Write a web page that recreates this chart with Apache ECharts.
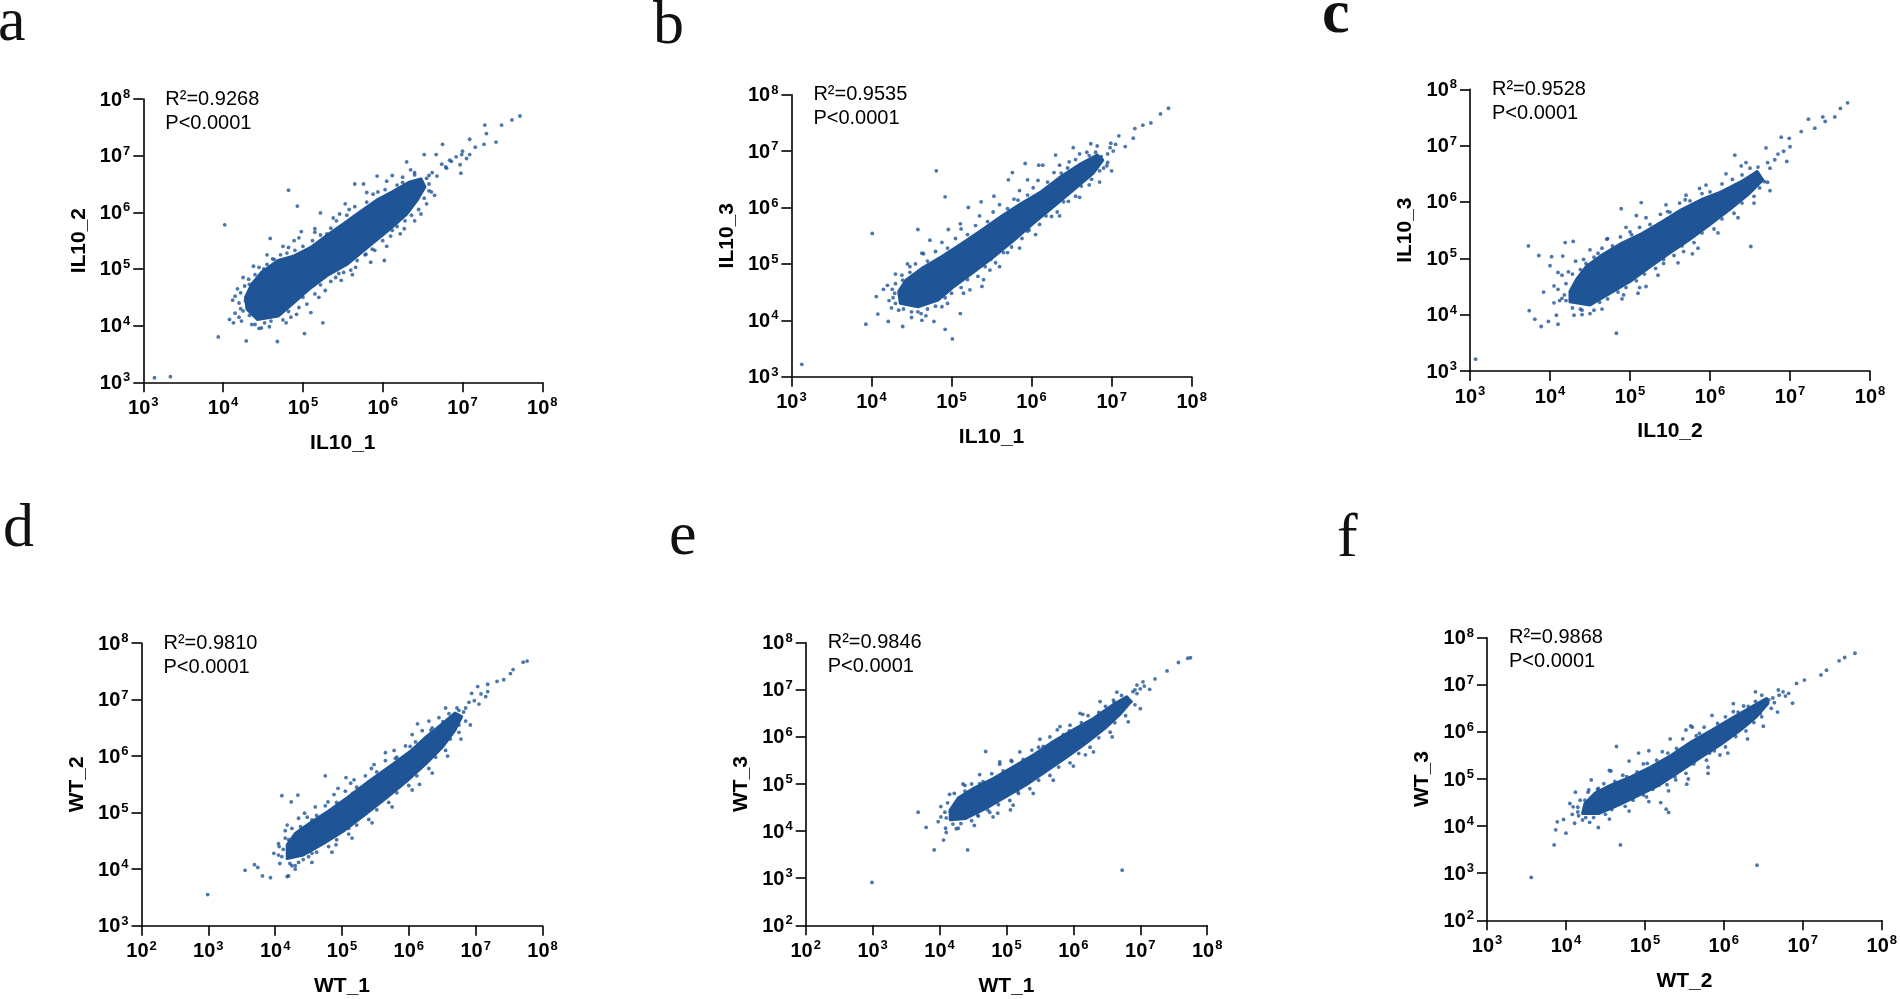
<!DOCTYPE html>
<html>
<head>
<meta charset="utf-8">
<title>Correlation scatter</title>
<script src="https://cdn.jsdelivr.net/npm/echarts@6/dist/echarts.min.js"></script>
<style>
  html, body { margin: 0; padding: 0; background: #fff; }
  #main { width: 1900px; height: 999px; }
</style>
</head>
<body>
<div id="main"></div>
<script>
// all values are log10(expression)
// xCore = outline of the solid centre of a cloud, xDots = single dots,
// xEdge / xFar = dots along the rim of the centre and a little further out

var aCore = [[4.30,4.29],[4.43,4.11],[4.69,4.17],[4.89,4.41],[5.10,4.67],[5.30,4.88],[5.56,5.09],[5.81,5.38],[6.07,5.68],[6.30,5.97],[6.43,6.21],[6.53,6.45],[6.48,6.59],[6.33,6.53],[6.12,6.36],[5.92,6.21],[5.71,6.00],[5.51,5.80],[5.30,5.59],[5.10,5.38],[4.89,5.23],[4.69,5.15],[4.48,4.94],[4.36,4.73],[4.28,4.50]];
var aDots = [[3.14,3.08],[3.34,3.10],[3.94,3.80],[4.02,5.78],[4.82,6.39],[4.93,6.11],[4.29,3.73],[4.68,3.72],[5.02,3.86],[5.25,4.05],[4.08,4.11],[4.15,4.52],[4.59,5.54],[4.98,5.66],[5.22,5.99],[5.53,6.15],[5.65,6.50],[5.76,6.50],[5.93,6.64],[6.02,5.15],[6.30,6.89],[6.52,7.02],[6.75,7.20],[6.67,7.02],[7.09,7.29],[7.28,7.54],[7.30,7.39],[7.49,7.54],[7.62,7.63],[7.72,7.70],[7.42,7.24],[7.27,7.20],[7.16,7.15],[7.09,7.02],[6.97,6.84],[6.99,7.02],[6.84,6.92],[6.98,6.69],[6.79,6.80],[6.58,6.65],[6.61,6.36],[6.48,5.97],[6.27,5.71],[6.12,5.68],[5.94,6.36],[6.12,6.65],[6.25,6.53],[5.46,5.97],[5.15,5.71],[4.89,5.50],[4.82,5.38],[4.64,5.17],[4.51,5.00],[4.33,4.73],[4.28,4.44],[4.25,4.26],[4.36,4.02],[4.48,3.96],[4.79,4.05],[4.92,4.20],[5.10,4.23],[5.20,4.50],[5.41,4.85],[5.51,4.94],[5.66,5.03],[5.79,5.26],[5.87,5.35],[5.99,5.62],[5.66,5.44],[5.30,5.62],[4.23,4.08],[4.13,4.05],[4.41,4.52],[6.55,6.60],[6.62,6.70],[6.68,6.64],[6.74,6.85],[6.80,6.78],[6.86,6.90],[6.92,6.98],[7.00,7.08],[7.05,6.95],[6.45,6.55],[6.58,6.50],[6.40,6.70]];
var aEdge = [[4.33,4.18],[4.40,4.02],[4.52,4.05],[4.60,4.08],[4.75,4.10],[4.82,4.25],[4.95,4.32],[5.00,4.50],[5.15,4.56],[5.22,4.72],[5.35,4.78],[5.45,4.92],[5.60,4.98],[5.68,5.15],[5.78,5.25],[5.90,5.33],[6.00,5.50],[6.10,5.58],[6.18,5.75],[6.28,5.85],[6.36,5.95],[6.45,6.05],[6.52,6.25],[6.58,6.38],[6.40,6.66],[6.25,6.62],[6.18,6.48],[6.03,6.40],[5.88,6.32],[5.80,6.18],[5.65,6.10],[5.55,5.95],[5.42,5.85],[5.35,5.72],[5.22,5.60],[5.12,5.50],[5.00,5.40],[4.90,5.33],[4.80,5.28],[4.72,5.25],[4.62,5.18],[4.55,5.08],[4.45,5.03],[4.40,4.90],[4.32,4.82],[4.27,4.70],[4.22,4.58],[4.20,4.40],[4.22,4.30]];
var aFar = [[4.45,3.95],[4.58,3.98],[4.85,4.15],[5.05,4.38],[5.28,4.62],[5.48,4.80],[5.62,4.90],[5.85,5.12],[6.05,5.40],[6.22,5.62],[6.40,5.85],[6.55,6.15],[6.65,6.30],[6.35,6.75],[6.05,6.55],[5.80,6.35],[5.58,6.05],[5.38,5.90],[5.15,5.65],[4.95,5.55],[4.75,5.40],[4.55,5.25],[4.38,5.05],[4.25,4.85],[4.18,4.65],[4.12,4.45],[4.15,4.22],[4.20,4.15]];

var bCore = [[4.36,4.30],[4.58,4.24],[4.83,4.36],[5.03,4.60],[5.28,4.86],[5.53,5.13],[5.78,5.42],[6.02,5.72],[6.27,6.01],[6.52,6.31],[6.77,6.61],[6.89,6.84],[6.82,6.93],[6.62,6.78],[6.37,6.55],[6.12,6.28],[5.87,6.07],[5.62,5.84],[5.38,5.60],[5.13,5.36],[4.88,5.13],[4.63,4.92],[4.43,4.71],[4.34,4.51]];
var bDots = [[3.13,3.22],[3.93,3.93],[4.01,5.54],[4.81,6.65],[4.92,6.19],[4.58,5.61],[5.01,3.67],[4.92,3.84],[5.11,4.12],[4.39,3.89],[4.21,3.98],[4.08,4.11],[4.06,4.42],[4.15,4.55],[4.63,4.00],[4.78,3.98],[4.73,5.42],[4.96,5.61],[5.11,5.71],[5.21,6.00],[5.37,6.10],[5.53,6.20],[5.76,6.62],[5.71,6.49],[5.92,6.78],[6.09,6.75],[6.14,6.75],[5.95,6.49],[6.30,6.93],[6.52,7.06],[6.47,6.81],[6.69,6.98],[6.74,7.13],[6.82,7.09],[6.99,7.14],[7.09,7.27],[7.17,7.08],[7.27,7.23],[7.29,7.40],[7.39,7.46],[7.49,7.50],[7.61,7.66],[7.71,7.76],[6.94,6.74],[6.87,6.90],[6.72,6.40],[6.46,6.11],[6.25,5.84],[5.97,5.60],[5.70,5.20],[5.48,4.89],[5.38,4.60],[5.23,4.54],[5.49,5.08],[6.37,6.61],[6.57,6.72],[5.83,6.13],[4.63,5.19],[4.48,4.95],[4.39,4.71],[4.29,4.48],[4.34,4.18],[4.58,4.15],[4.88,4.24],[6.95,6.95],[7.02,7.00],[6.98,7.06],[7.05,7.12],[6.90,6.70],[6.80,6.98]];
var bEdge = [[4.40,4.20],[4.50,4.15],[4.62,4.12],[4.70,4.20],[4.80,4.25],[4.92,4.40],[5.00,4.48],[5.12,4.58],[5.20,4.72],[5.33,4.78],[5.42,4.95],[5.55,5.02],[5.65,5.20],[5.75,5.30],[5.88,5.45],[5.95,5.58],[6.10,5.70],[6.18,5.85],[6.32,5.92],[6.40,6.10],[6.55,6.20],[6.62,6.38],[6.75,6.50],[6.85,6.65],[6.95,6.80],[6.72,6.92],[6.55,6.85],[6.45,6.70],[6.28,6.62],[6.20,6.45],[6.02,6.35],[5.95,6.22],[5.78,6.15],[5.70,5.98],[5.52,5.92],[5.45,5.75],[5.30,5.68],[5.20,5.52],[5.05,5.45],[4.95,5.28],[4.80,5.22],[4.70,5.05],[4.55,5.00],[4.48,4.85],[4.38,4.80],[4.30,4.65],[4.26,4.55],[4.27,4.40],[4.30,4.30]];
var bFar = [[4.50,4.05],[4.68,4.08],[4.95,4.30],[5.15,4.48],[5.40,4.72],[5.60,4.95],[5.85,5.28],[6.05,5.52],[6.35,5.85],[6.60,6.18],[6.85,6.45],[7.00,6.65],[6.60,6.95],[6.35,6.75],[6.08,6.48],[5.85,6.30],[5.60,6.05],[5.35,5.85],[5.12,5.62],[4.88,5.38],[4.65,5.18],[4.45,5.00],[4.30,4.82],[4.20,4.62],[4.22,4.35],[4.25,4.22]];

var cCore = [[4.25,4.23],[4.50,4.17],[4.75,4.38],[5.00,4.59],[5.25,4.85],[5.49,5.09],[5.74,5.33],[5.99,5.59],[6.24,5.86],[6.49,6.15],[6.66,6.39],[6.59,6.54],[6.39,6.36],[6.14,6.18],[5.89,6.04],[5.64,5.86],[5.40,5.65],[5.15,5.44],[4.90,5.27],[4.65,5.06],[4.45,4.85],[4.33,4.62],[4.25,4.41]];
var cDots = [[3.07,3.21],[3.73,5.22],[3.86,5.05],[4.02,5.03],[4.00,4.87],[3.92,4.40],[3.74,4.07],[3.81,3.92],[3.89,3.79],[3.98,3.88],[4.08,3.99],[4.10,3.83],[4.05,4.21],[4.15,4.29],[4.05,4.51],[4.19,5.28],[4.29,5.30],[4.16,5.04],[4.23,4.76],[4.10,4.75],[4.83,3.67],[4.89,5.88],[5.14,5.99],[4.71,5.34],[5.08,5.76],[6.31,6.83],[6.51,5.21],[6.70,6.96],[6.89,7.15],[6.99,7.13],[7.00,6.98],[7.14,7.25],[7.23,7.47],[7.41,7.51],[7.56,7.51],[7.63,7.66],[7.72,7.76],[7.31,7.31],[7.44,7.43],[6.96,6.72],[6.81,6.75],[6.68,6.36],[6.39,6.64],[6.22,6.21],[5.98,5.59],[5.79,5.44],[5.78,5.08],[5.67,5.12],[5.42,4.91],[5.42,5.24],[5.20,4.50],[5.10,4.38],[4.92,4.35],[4.50,4.02],[4.30,3.99],[4.40,4.08],[5.47,5.83],[5.69,6.04],[5.87,6.24],[5.59,5.68],[5.00,5.47],[4.60,5.09],[4.45,4.91],[6.75,6.60],[6.85,6.85],[6.72,6.70],[6.92,6.90],[6.60,6.62]];
var cEdge = [[4.28,4.12],[4.38,4.10],[4.55,4.08],[4.62,4.22],[4.72,4.28],[4.85,4.40],[4.95,4.48],[5.08,4.60],[5.18,4.72],[5.32,4.82],[5.42,4.98],[5.55,5.05],[5.65,5.22],[5.80,5.28],[5.90,5.45],[6.05,5.52],[6.15,5.70],[6.30,5.80],[6.40,5.98],[6.55,6.10],[6.62,6.25],[6.72,6.35],[6.50,6.60],[6.40,6.48],[6.28,6.40],[6.15,6.32],[6.00,6.18],[5.90,6.15],[5.75,6.02],[5.62,5.98],[5.50,5.82],[5.38,5.78],[5.25,5.60],[5.12,5.55],[5.02,5.42],[4.88,5.38],[4.78,5.22],[4.65,5.18],[4.55,5.02],[4.42,4.98],[4.38,4.80],[4.28,4.72],[4.20,4.55],[4.18,4.35],[4.20,4.25]];
var cFar = [[4.40,4.00],[4.65,4.10],[4.90,4.28],[5.12,4.48],[5.35,4.70],[5.60,4.92],[5.85,5.18],[6.10,5.45],[6.35,5.72],[6.55,5.98],[6.75,6.20],[6.45,6.70],[6.20,6.50],[5.95,6.30],[5.70,6.12],[5.45,5.95],[5.20,5.72],[4.95,5.55],[4.72,5.35],[4.50,5.15],[4.32,4.95],[4.15,4.70],[4.10,4.45],[4.12,4.25]];

var dCore = [[4.18,4.19],[4.42,4.25],[4.73,4.46],[5.04,4.69],[5.34,4.96],[5.65,5.25],[5.96,5.55],[6.26,5.87],[6.51,6.17],[6.69,6.46],[6.79,6.70],[6.69,6.76],[6.51,6.58],[6.26,6.34],[6.02,6.08],[5.71,5.81],[5.40,5.55],[5.10,5.28],[4.79,5.02],[4.55,4.84],[4.30,4.63],[4.18,4.43]];
var dDots = [[2.99,3.55],[3.55,3.98],[3.69,4.08],[3.74,4.03],[3.81,3.88],[3.93,3.85],[4.20,3.88],[4.25,4.06],[4.30,4.06],[3.98,4.28],[4.06,4.40],[4.18,4.78],[4.10,5.30],[4.34,5.31],[4.24,5.19],[4.44,4.99],[4.75,5.65],[5.06,5.62],[4.94,5.43],[5.13,5.52],[5.44,5.78],[5.65,6.06],[5.80,5.96],[6.13,6.57],[6.16,5.50],[6.51,6.61],[6.57,6.46],[6.66,6.71],[6.94,7.11],[7.03,7.23],[7.18,7.27],[7.18,7.14],[7.32,7.32],[7.42,7.35],[7.52,7.46],[7.56,7.53],[7.71,7.66],[7.77,7.68],[7.15,7.05],[7.05,6.92],[6.75,6.55],[6.48,6.40],[6.36,6.14],[6.02,5.81],[5.77,5.52],[5.47,5.28],[5.28,5.05],[5.10,4.72],[5.16,4.87],[4.91,4.43],[4.55,4.28],[4.42,4.17],[4.18,3.87],[4.07,4.10],[4.20,4.52],[4.55,4.87],[4.79,5.19],[5.16,5.34],[5.65,5.69],[6.02,6.17],[6.33,6.46],[6.75,6.81],[6.85,6.85],[6.90,6.95],[6.98,6.98],[7.08,7.10],[6.82,6.78]];
var dEdge = [[4.22,4.10],[4.35,4.12],[4.50,4.22],[4.62,4.30],[4.80,4.40],[4.92,4.52],[5.10,4.62],[5.22,4.78],[5.40,4.88],[5.52,5.05],[5.70,5.18],[5.82,5.35],[6.00,5.48],[6.12,5.65],[6.30,5.78],[6.40,5.98],[6.55,6.10],[6.62,6.30],[6.75,6.42],[6.85,6.62],[6.72,6.85],[6.60,6.75],[6.45,6.68],[6.35,6.50],[6.20,6.45],[6.10,6.25],[5.95,6.18],[5.82,5.98],[5.65,5.92],[5.52,5.72],[5.35,5.65],[5.22,5.45],[5.05,5.38],[4.92,5.18],[4.75,5.12],[4.62,4.95],[4.48,4.92],[4.38,4.75],[4.25,4.72],[4.15,4.55],[4.12,4.35],[4.10,4.22]];
var dFar = [[4.30,4.00],[4.55,4.12],[4.85,4.30],[5.15,4.55],[5.45,4.82],[5.75,5.10],[6.05,5.40],[6.35,5.70],[6.58,6.00],[6.78,6.30],[6.92,6.55],[6.55,6.85],[6.30,6.62],[6.05,6.38],[5.78,6.10],[5.48,5.85],[5.18,5.58],[4.88,5.32],[4.60,5.10],[4.35,4.90],[4.15,4.68],[4.05,4.45],[4.05,4.25]];

var eCore = [[4.16,4.24],[4.39,4.27],[4.69,4.48],[4.99,4.73],[5.29,4.98],[5.58,5.26],[5.88,5.55],[6.18,5.86],[6.47,6.18],[6.71,6.50],[6.86,6.75],[6.80,6.85],[6.59,6.68],[6.30,6.39],[6.00,6.15],[5.70,5.90],[5.41,5.62],[5.11,5.37],[4.81,5.12],[4.51,4.91],[4.28,4.70],[4.16,4.45]];
var eDots = [[2.99,2.91],[6.73,3.17],[3.68,4.40],[3.80,4.08],[3.92,3.60],[4.06,3.81],[4.42,3.60],[3.98,4.20],[4.09,4.06],[4.10,3.97],[4.28,4.06],[4.69,5.69],[4.90,5.47],[5.07,5.50],[5.06,4.45],[4.38,4.97],[4.60,5.01],[4.39,4.80],[4.28,4.55],[4.16,4.41],[5.48,5.78],[5.76,6.15],[5.94,6.13],[6.14,6.48],[6.61,6.73],[6.95,7.10],[7.04,7.17],[7.22,7.23],[7.40,7.40],[7.57,7.58],[7.71,7.67],[7.75,7.68],[7.14,7.01],[6.86,6.75],[6.71,6.57],[6.36,6.18],[6.09,5.86],[5.94,5.65],[5.70,5.44],[5.49,5.26],[5.46,5.16],[5.17,4.84],[5.23,5.01],[4.87,4.38],[4.72,4.45],[4.57,4.34],[6.18,5.62],[5.97,5.83],[6.41,6.50],[5.46,5.65],[5.23,5.44],[6.89,6.96],[6.95,6.92],[7.00,7.02],[7.06,7.08],[6.92,7.00]];
var eEdge = [[4.20,4.15],[4.32,4.16],[4.48,4.22],[4.58,4.32],[4.75,4.40],[4.88,4.56],[5.05,4.65],[5.18,4.80],[5.35,4.90],[5.48,5.08],[5.65,5.18],[5.78,5.36],[5.95,5.45],[6.08,5.65],[6.25,5.78],[6.38,5.98],[6.55,6.10],[6.62,6.30],[6.78,6.45],[6.92,6.68],[6.72,6.88],[6.60,6.78],[6.48,6.65],[6.38,6.52],[6.22,6.45],[6.12,6.30],[5.95,6.25],[5.85,6.05],[5.65,6.00],[5.55,5.80],[5.38,5.72],[5.25,5.52],[5.08,5.48],[4.95,5.28],[4.78,5.22],[4.65,5.05],[4.48,5.00],[4.38,4.85],[4.22,4.80],[4.12,4.60],[4.08,4.40],[4.10,4.28]];
var eFar = [[4.25,4.05],[4.52,4.12],[4.80,4.30],[5.10,4.55],[5.40,4.80],[5.70,5.08],[6.00,5.38],[6.30,5.68],[6.58,6.00],[6.82,6.32],[7.00,6.60],[6.65,6.95],[6.40,6.75],[6.10,6.50],[5.80,6.22],[5.50,5.95],[5.20,5.68],[4.90,5.42],[4.60,5.20],[4.35,5.00],[4.15,4.78],[4.02,4.52],[4.02,4.30]];

var fCore = [[4.21,4.27],[4.42,4.27],[4.67,4.45],[4.93,4.66],[5.18,4.87],[5.44,5.16],[5.69,5.44],[5.95,5.72],[6.21,6.04],[6.41,6.32],[6.56,6.61],[6.54,6.71],[6.36,6.54],[6.10,6.29],[5.85,6.04],[5.59,5.79],[5.34,5.51],[5.08,5.26],[4.83,5.05],[4.57,4.87],[4.37,4.70],[4.24,4.48]];
var fDots = [[3.56,2.91],[6.42,3.17],[3.85,3.60],[4.69,3.60],[3.87,3.92],[3.89,4.09],[3.97,4.14],[4.00,3.85],[4.09,4.41],[4.11,4.06],[4.16,4.22],[4.24,4.55],[4.41,4.80],[4.41,3.97],[4.64,5.69],[4.92,5.55],[4.57,5.17],[5.30,4.29],[5.27,4.36],[5.20,4.50],[5.53,4.89],[5.39,4.98],[5.80,5.12],[5.95,5.51],[5.82,5.55],[5.58,6.13],[5.52,6.04],[6.12,6.43],[6.69,6.89],[6.87,6.61],[6.92,7.03],[7.02,7.10],[7.23,7.21],[7.30,7.31],[7.46,7.51],[7.53,7.58],[7.66,7.67],[6.82,6.82],[6.57,6.68],[6.46,6.39],[6.26,6.18],[6.05,5.93],[5.90,5.76],[5.59,5.33],[5.18,4.87],[4.98,4.66],[4.72,4.52],[4.57,4.38],[4.42,4.34],[4.21,4.13],[4.29,4.77],[4.77,5.05],[5.03,5.33],[5.29,5.55],[5.69,5.97],[6.31,6.54],[6.62,6.72],[6.70,6.78],[6.75,6.85],[6.78,6.76],[6.64,6.62]];
var fEdge = [[4.25,4.18],[4.35,4.18],[4.50,4.25],[4.58,4.35],[4.75,4.42],[4.85,4.55],[5.02,4.62],[5.10,4.78],[5.28,4.88],[5.38,5.05],[5.52,5.12],[5.62,5.32],[5.78,5.40],[5.88,5.60],[6.02,5.68],[6.15,5.90],[6.28,6.02],[6.38,6.20],[6.48,6.32],[6.60,6.50],[6.48,6.78],[6.40,6.65],[6.25,6.55],[6.18,6.42],[6.02,6.32],[5.92,6.18],[5.75,6.10],[5.65,5.92],[5.48,5.85],[5.40,5.65],[5.22,5.58],[5.15,5.40],[4.98,5.32],[4.90,5.15],[4.72,5.08],[4.62,4.95],[4.48,4.90],[4.40,4.78],[4.28,4.72],[4.18,4.55],[4.15,4.40],[4.15,4.30]];
var fFar = [[4.30,4.08],[4.55,4.15],[4.80,4.32],[5.05,4.52],[5.30,4.75],[5.55,5.00],[5.80,5.25],[6.05,5.55],[6.30,5.85],[6.50,6.12],[6.68,6.42],[6.40,6.85],[6.12,6.60],[5.85,6.35],[5.60,6.10],[5.32,5.85],[5.05,5.60],[4.80,5.38],[4.55,5.18],[4.32,4.98],[4.12,4.72],[4.05,4.48],[4.08,4.25]];

var xNames = ['IL10_1', 'IL10_1', 'IL10_2', 'WT_1', 'WT_1', 'WT_2'];
var yNames = ['IL10_2', 'IL10_3', 'IL10_3', 'WT_2', 'WT_3', 'WT_3'];
var r2Values = ['0.9268', '0.9535', '0.9528', '0.9810', '0.9846', '0.9868'];
var pValue = 'P<0.0001';
var letters = ['a', 'b', 'c', 'd', 'e', 'f'];
// axis extents, decades (10^min .. 10^max)
var xRanges = [[3, 8], [3, 8], [3, 8], [2, 8], [2, 8], [3, 8]];
var yRanges = [[3, 8], [3, 8], [3, 8], [3, 8], [2, 8], [2, 8]];

var cores = [aCore, bCore, cCore, dCore, eCore, fCore];
var dots = [
  aDots.concat(aEdge, aFar),
  bDots.concat(bEdge, bFar),
  cDots.concat(cEdge, cFar),
  dDots.concat(dEdge, dFar),
  eDots.concat(eEdge, eFar),
  fDots.concat(fEdge, fFar)
];

// layout: [left, top, width, height] of each plot, and letter positions
var rects = [
  [143.3, 99, 399, 283.3],
  [791.4, 94.7, 400.3, 282],
  [1470, 89.3, 400, 281.7],
  [141.5, 643, 401, 282.7],
  [805.7, 642.7, 401.5, 282.6],
  [1487, 637.7, 401, 282.6]
];
var letterPos = [[-2, -7], [653, -4], [1322, -15], [3, 499], [669, 507], [1337, 509]];

var BLUE = '#1f5596';
var SANS = '"Liberation Sans", Arial, Helvetica, sans-serif';
var NARROW = '"Liberation Sans Narrow", "Arial Narrow", "Liberation Sans", Arial, sans-serif';
var SERIF = '"Liberation Serif", "Times New Roman", serif';

function pow10(p) {
  return [Math.pow(10, p[0]), Math.pow(10, p[1])];
}

function tickLabel(v) {
  return '{b|10}{s|' + Math.round(Math.log10(v)) + '}';
}

var tickRich = {
  b: { fontSize: 20, fontWeight: 'bold', fontFamily: NARROW, color: '#000', lineHeight: 22, verticalAlign: 'bottom' },
  s: { fontSize: 13, fontWeight: 'bold', fontFamily: NARROW, color: '#000', lineHeight: 14, verticalAlign: 'top', padding: [0, 0, 0, 1] }
};

function axisCommon() {
  return {
    type: 'log',
    logBase: 10,
    axisLine: { show: true, onZero: false, lineStyle: { color: '#000', width: 1.6 } },
    axisTick: { show: true, inside: false, length: 10, lineStyle: { color: '#000', width: 1.6 } },
    splitLine: { show: false },
    minorTick: { show: false },
    nameLocation: 'middle',
    nameTextStyle: { fontSize: 21, fontWeight: 'bold', fontFamily: SANS, color: '#000' }
  };
}

var grids = [], xAxes = [], yAxes = [], series = [], graphics = [];

for (var i = 0; i < 6; i++) {
  var r = rects[i];
  grids.push({ left: r[0], top: r[1], width: r[2], height: r[3], containLabel: false });

  var xa = axisCommon();
  xa.gridIndex = i;
  xa.min = Math.pow(10, xRanges[i][0]);
  xa.max = Math.pow(10, xRanges[i][1]);
  xa.name = xNames[i];
  xa.nameGap = 50;
  xa.axisLabel = { formatter: tickLabel, rich: tickRich, margin: 14 };
  xAxes.push(xa);

  var ya = axisCommon();
  ya.gridIndex = i;
  ya.min = Math.pow(10, yRanges[i][0]);
  ya.max = Math.pow(10, yRanges[i][1]);
  ya.name = yNames[i];
  ya.nameGap = 54;
  ya.axisLabel = { formatter: tickLabel, rich: tickRich, margin: 13 };
  yAxes.push(ya);

  (function (coreVals) {
    series.push({
      type: 'custom',
      xAxisIndex: i,
      yAxisIndex: i,
      silent: true,
      data: coreVals,
      renderItem: function (params, api) {
        if (params.dataIndex !== 0) return null;
        var pts = coreVals.map(function (v) { return api.coord(v); });
        return {
          type: 'polygon',
          shape: { points: pts },
          style: { fill: BLUE, stroke: BLUE, lineWidth: 3, lineJoin: 'round' }
        };
      }
    });
  })(cores[i].map(pow10));

  series.push({
    type: 'scatter',
    xAxisIndex: i,
    yAxisIndex: i,
    silent: true,
    symbol: 'circle',
    symbolSize: 3.8,
    itemStyle: { color: BLUE },
    data: dots[i].map(pow10)
  });

  graphics.push({
    type: 'text',
    left: r[0] + 22,
    top: r[1] - 12,
    style: {
      text: 'R²=' + r2Values[i] + '\n' + pValue,
      font: '20px ' + SANS,
      lineHeight: 24,
      fill: '#000'
    }
  });

  graphics.push({
    type: 'text',
    left: letterPos[i][0],
    top: letterPos[i][1],
    style: {
      text: letters[i],
      font: (i === 2 ? 'bold ' : '') + '62px ' + SERIF,
      fill: '#111'
    }
  });
}

var chart = echarts.init(document.getElementById('main'), null, { renderer: 'canvas' });
chart.setOption({
  backgroundColor: '#fff',
  animation: false,
  grid: grids,
  xAxis: xAxes,
  yAxis: yAxes,
  series: series,
  graphic: graphics
});
</script>
</body>
</html>
